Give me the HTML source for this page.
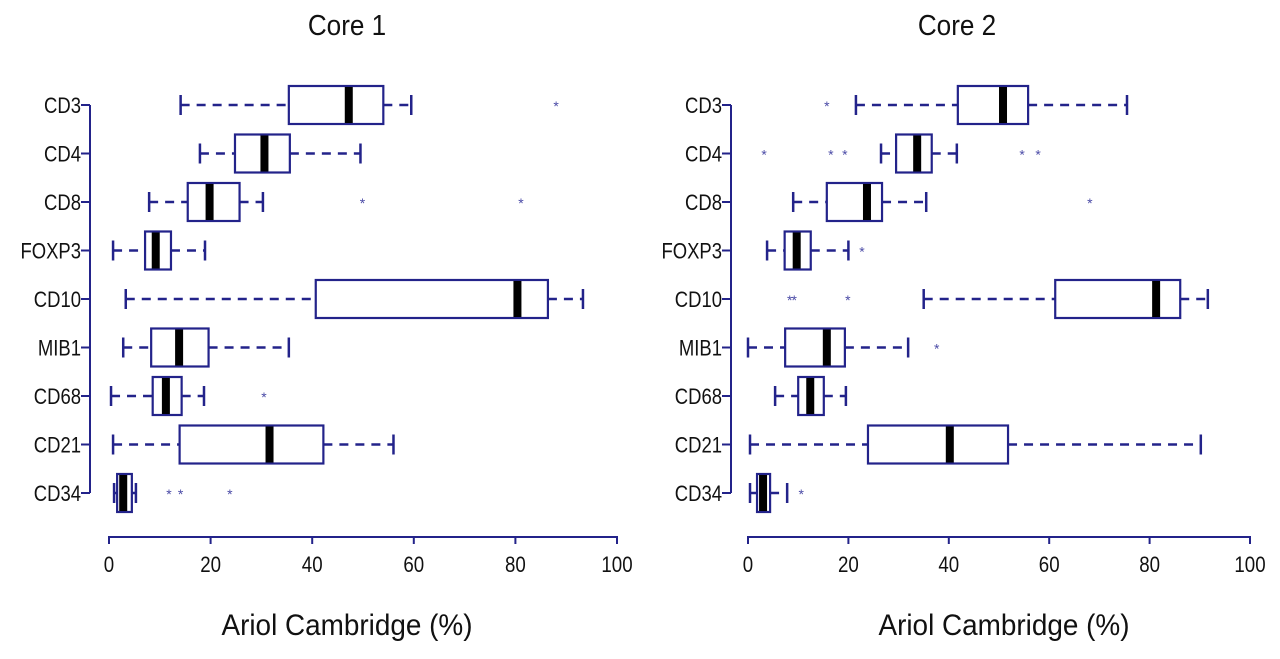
<!DOCTYPE html>
<html><head><meta charset="utf-8"><style>
html,body{margin:0;padding:0;background:#fff;}
svg{display:block;font-family:"Liberation Sans",sans-serif;}
</style></head><body>
<svg id="chart" width="1280" height="659" viewBox="0 0 1280 659"></svg>
<script>
const categories=["CD3","CD4","CD8","FOXP3","CD10","MIB1","CD68","CD21","CD34"];
const xTicks=[0,20,40,60,80,100];
// [whiskerLow, q1, median, q3, whiskerHigh]
const core1Stats=[[14.1,35.4,47.2,54,59.5],[17.9,24.8,30.6,35.6,49.5],[7.9,15.5,19.8,25.7,30.3],[0.8,7.1,9.2,12.2,18.9],[3.3,40.7,80.4,86.4,93.3],[2.8,8.3,13.8,19.6,35.4],[0.4,8.6,11.2,14.3,18.7],[0.8,13.9,31.6,42.2,56],[1,1.6,2.8,4.5,5.3]];
const core1Outliers=[[88],[],[49.9,81.1],[],[],[],[30.5],[],[11.8,14.1,23.8]];
const core2Stats=[[21.5,41.8,50.8,55.8,75.5],[26.5,29.5,33.7,36.6,41.6],[9,15.7,23.7,26.7,35.5],[3.8,7.3,9.7,12.5,20],[35,61.2,81.3,86.1,91.6],[0,7.4,15.7,19.3,31.9],[5.4,10,12.4,15.1,19.5],[0.4,23.9,40.2,51.8,90.2],[0.4,1.8,3,4.4,7.8]];
const core2Outliers=[[15.7],[3.2,16.5,19.3,54.6,57.8],[68.1],[22.7],[8.3,9.2,19.9],[37.6],[],[],[10.6]];

const NS="http://www.w3.org/2000/svg",svg=document.getElementById('chart'),C="#23238a";
function mk(tag,attrs,parent){const e=document.createElementNS(NS,tag);for(const k in attrs)e.setAttribute(k,attrs[k]);(parent||svg).appendChild(e);return e;}
function txt(parent,x,y,s,size,sx,anchor){const g=mk('g',{transform:`translate(${x},${y}) scale(${sx},1)`},parent);const t=mk('text',{x:0,y:0,'font-size':size,'text-anchor':anchor,fill:'#111'},g);t.textContent=s;return t;}
function panel(title,x0,x1,yAxisX,stats,outl,key,titleX,axisTitleX){
  const g=mk('g',{});
  
  
  const xs=v=>x0+(x1-x0)*v/100;
  const ys=i=>105+i*48.5;
  const t=txt(g,titleX,35,title,29,0.9,'middle');
  
  
  const ya=mk('path',{d:`M${yAxisX},${ys(0)}V${ys(8)}`,stroke:C,'stroke-width':2,fill:'none'},g);
  
  
  categories.forEach((c,i)=>{
    const y=ys(i);
    mk('line',{x1:yAxisX-9,x2:yAxisX,y1:y,y2:y,stroke:C,'stroke-width':2},g);
    const l=txt(g,yAxisX-9,y+8,c,22,0.84,'end');
    
    
    const s=stats[i];
    const bg=mk('g',{},g);
    
    
    mk('line',{x1:xs(s[0]),x2:xs(s[1]),y1:y,y2:y,stroke:C,'stroke-width':2.5,'stroke-dasharray':'9,7'},bg);
    mk('line',{x1:xs(s[3]),x2:xs(s[4]),y1:y,y2:y,stroke:C,'stroke-width':2.5,'stroke-dasharray':'9,7'},bg);
    mk('line',{x1:xs(s[0]),x2:xs(s[0]),y1:y-10,y2:y+10,stroke:C,'stroke-width':2.5},bg);
    mk('line',{x1:xs(s[4]),x2:xs(s[4]),y1:y-10,y2:y+10,stroke:C,'stroke-width':2.5},bg);
    mk('rect',{x:xs(s[1]),y:y-19,width:xs(s[3])-xs(s[1]),height:38,fill:'#fff',stroke:C,'stroke-width':2.2},bg);
    mk('rect',{x:xs(s[2])-4,y:y-18,width:8,height:36,fill:'#000'},bg);
    outl[i].forEach(v=>{const o=mk('text',{x:xs(v),y:y+6,'font-size':14,'text-anchor':'middle',fill:'#4a4aa6'},bg);o.textContent='*';
      
      });
  });
  const xa=mk('path',{d:`M${x0},544V537H${x1}V544`,stroke:C,'stroke-width':2,fill:'none'},g);
  
  
  xTicks.forEach(v=>{
    mk('line',{x1:xs(v),x2:xs(v),y1:537,y2:544,stroke:C,'stroke-width':2},g);
    const tl=txt(g,xs(v),572,String(v),22,0.85,'middle');
    
    
  });
  const at=txt(g,axisTitleX,635,'Ariol Cambridge (%)',30,0.93,'middle');
  
  
}
panel('Core 1',109,617,90,core1Stats,core1Outliers,'core1',347,347);
panel('Core 2',748,1250,731,core2Stats,core2Outliers,'core2',957,1004);
</script>
</body></html>
